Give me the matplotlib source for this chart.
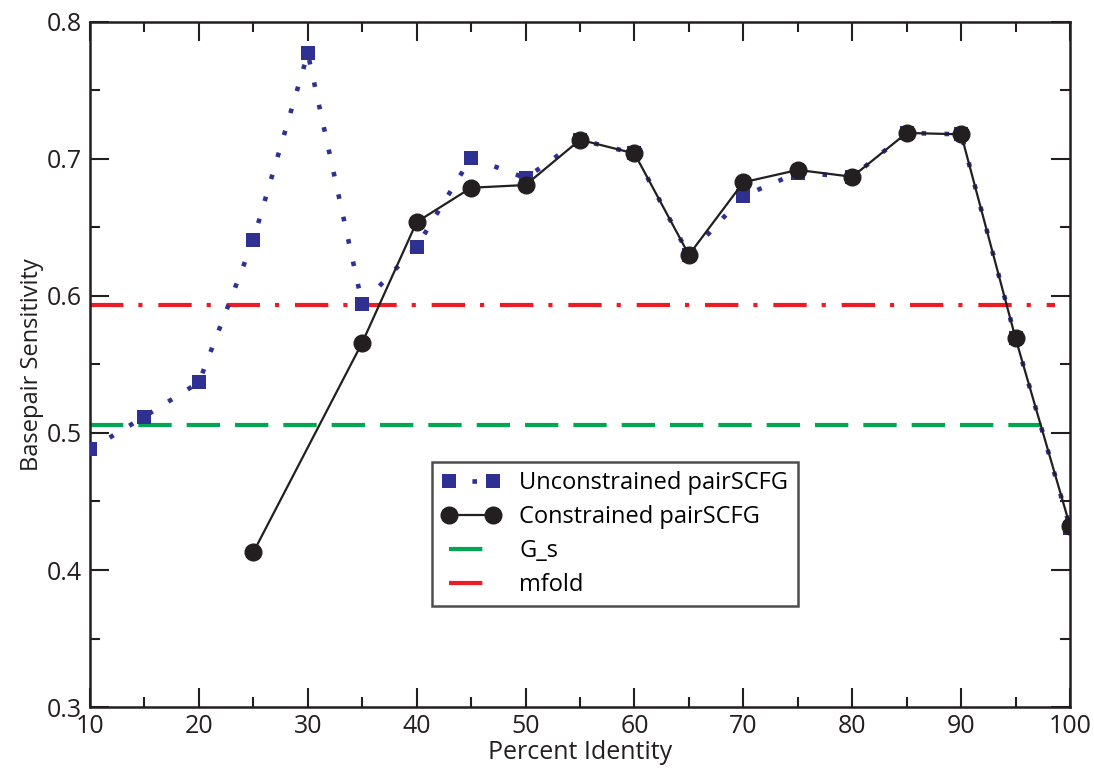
import numpy as np
import matplotlib.pyplot as plt

# values
pid_unc = [10, 15, 20, 25, 30, 35, 40, 45, 50, 55, 60, 65, 70, 75, 80, 85, 90, 95, 100]
sens_unc = [0.488, 0.512, 0.537, 0.641, 0.777, 0.594, 0.636, 0.701, 0.686, 0.714, 0.704,
            0.630, 0.673, 0.690, 0.687, 0.719, 0.718, 0.569, 0.431]
pid_con = [25, 35, 40, 45, 50, 55, 60, 65, 70, 75, 80, 85, 90, 95, 100]
sens_con = [0.413, 0.566, 0.654, 0.679, 0.681, 0.714, 0.704, 0.630, 0.683, 0.692,
            0.687, 0.719, 0.718, 0.569, 0.432]
gs_level = 0.5055
mfold_level = 0.5935
ref_span = [10, 98.6]

plt.rcParams['font.family'] = ['Open Sans', 'DejaVu Sans']

fig = plt.figure(figsize=(10.94, 7.71), dpi=100)
ax = fig.add_axes([0.0823, 0.083, 0.8958, 0.8885])

blue = '#2e3192'
ax.plot(pid_unc, sens_unc, color=blue, linestyle=(0, (1, 4)), linewidth=3.3,
        dash_capstyle='butt', marker='s', markersize=9.5, markeredgewidth=0,
        label='Unconstrained pairSCFG', zorder=3)
ax.plot(pid_con, sens_con, color='#231f20', linewidth=1.6, marker='o', markersize=12,
        label='Constrained pairSCFG', zorder=4)
ax.plot(ref_span, [gs_level, gs_level], color='#00a651', linewidth=3,
        linestyle=(0, (8, 3.6)), dash_capstyle='butt', label='G_s', zorder=2)
ax.plot(ref_span, [mfold_level, mfold_level], color='#ed1c24', linewidth=3,
        linestyle=(0, (8, 3.6, 1, 3.8)), dash_capstyle='butt', label='mfold', zorder=2)

ax.set_xlim(10, 100)
ax.set_ylim(0.3, 0.8)
ax.set_xticks(np.arange(10, 101, 10))
ax.set_xticks(np.arange(15, 100, 10), minor=True)
ax.set_yticks(np.arange(0.3, 0.81, 0.1))
ax.set_yticks(np.arange(0.35, 0.8, 0.1), minor=True)
ax.set_yticklabels(['0.3', '0.4', '0.5', '0.6', '0.7', '0.8'])
ax.tick_params(which='both', direction='in', top=True, right=True, width=1.5, labelsize=18,
               color='#231f20', labelcolor='#231f20')
ax.tick_params(which='major', length=14)
ax.tick_params(which='minor', length=7)
ax.tick_params(axis='x', pad=5)
ax.tick_params(axis='y', pad=6)
for s in ax.spines.values():
    s.set_linewidth(1.8)
    s.set_color('#231f20')

ax.set_xlabel('Percent Identity', fontsize=18, color='#231f20', labelpad=1)
ax.set_ylabel('Basepair Sensitivity', fontsize=17, color='#231f20', labelpad=2)

leg = ax.legend(loc='upper left', bbox_to_anchor=(0.349, 0.358), fontsize=17, frameon=True,
                fancybox=False, edgecolor='#231f20', handlelength=2.5, borderpad=0.4,
                labelspacing=0.42, handletextpad=0.8, borderaxespad=0, numpoints=2)
leg.get_frame().set_linewidth(1.8)

fig.savefig('out.png', dpi=100)
